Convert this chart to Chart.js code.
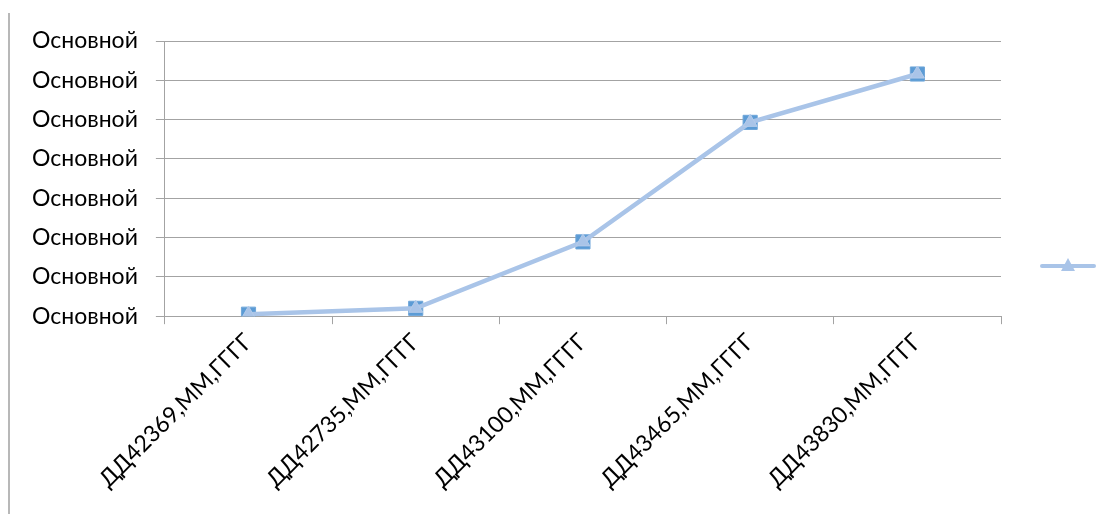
<!DOCTYPE html>
<html lang="ru">
<head>
  <meta charset="UTF-8" />
  <title>Основной</title>
  <script src="https://cdn.jsdelivr.net/npm/chart.js@4"></script>
  <style>
    html, body { margin: 0; padding: 0; background: #fff; }
    #wrap { position: relative; width: 1111px; height: 514px; }
    #frame { position: absolute; left: 8px; top: 13px; bottom: 0; border-left: 2px solid #b8b8b8; }
  </style>
</head>
<body>
  <div id="wrap">
    <div id="frame"></div>
    <canvas id="chart" width="1111" height="514"></canvas>
  </div>

  <script>
    // categories (x axis)
    const categories = ['ДД42369,ММ,ГГГГ', 'ДД42735,ММ,ГГГГ', 'ДД43100,ММ,ГГГГ', 'ДД43465,ММ,ГГГГ', 'ДД43830,ММ,ГГГГ'];
    // two series drawn on top of each other
    const squareSeries   = [0.05, 0.2, 1.89, 4.93, 6.16];
    const triangleSeries = [0.05, 0.2, 1.89, 4.93, 6.16];
    // y tick labels (all the same in the source)
    const yTickLabels = ['Основной', 'Основной', 'Основной', 'Основной', 'Основной', 'Основной', 'Основной', 'Основной'];

    const FONT = 'Lato';
    const GRID = '#a3a3a3';

    // legend: line + triangle, no text
    const legendLine = {
      id: 'legendLine',
      afterDraw(chart) {
        const ctx = chart.ctx;
        const x = 1068, y = 266;
        ctx.save();
        ctx.strokeStyle = '#a9c4e8';
        ctx.lineWidth = 4;
        ctx.lineCap = 'round';
        ctx.beginPath();
        ctx.moveTo(x - 26, y);
        ctx.lineTo(x + 26, y);
        ctx.stroke();
        ctx.fillStyle = '#a9c4e8';
        ctx.beginPath();
        ctx.moveTo(x, y - 8);
        ctx.lineTo(x + 7, y + 5);
        ctx.lineTo(x - 7, y + 5);
        ctx.closePath();
        ctx.fill();
        ctx.restore();
      }
    };

    new Chart(document.getElementById('chart'), {
      type: 'line',
      data: {
        labels: categories,
        datasets: [
          {
            label: 'ряд2',
            data: triangleSeries,
            borderColor: '#a9c4e8',
            borderWidth: 4.5,
            pointStyle: 'triangle',
            pointRadius: 8,
            pointBackgroundColor: '#a9c4e8',
            pointBorderColor: '#b4cbea',
            pointBorderWidth: 1,
            order: 0
          },
          {
            label: 'ряд1',
            data: squareSeries,
            showLine: false,
            pointStyle: 'rect',
            pointRadius: 10,
            pointBackgroundColor: '#5b9bd5',
            pointBorderColor: '#6fa6d9',
            pointBorderWidth: 1,
            order: 1
          }
        ]
      },
      options: {
        responsive: false,
        animation: false,
        layout: { padding: { left: 14, right: 110, top: 41, bottom: 17 } },
        plugins: { legend: { display: false }, tooltip: { enabled: false } },
        scales: {
          x: {
            offset: true,
            grid: { offset: true, drawOnChartArea: false, drawTicks: true, tickLength: 8, color: GRID },
            border: { color: GRID, width: 1 },
            ticks: {
              autoSkip: false, minRotation: 45, maxRotation: 45, padding: 4,
              color: '#000', font: { family: FONT, size: 23 }
            }
          },
          y: {
            min: 0, max: 7,
            grid: { color: GRID, lineWidth: 1, tickLength: 9 },
            border: { color: GRID, width: 1 },
            ticks: {
              stepSize: 1, padding: 18, color: '#000',
              font: { family: FONT, size: 23 },
              callback: (v, i) => yTickLabels[i]
            }
          }
        }
      },
      plugins: [legendLine]
    });
  </script>
</body>
</html>
